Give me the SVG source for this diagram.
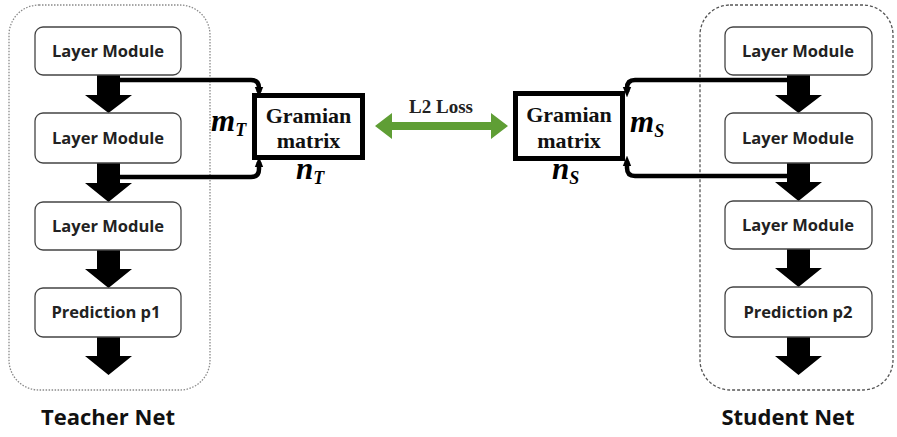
<svg xmlns="http://www.w3.org/2000/svg" width="897" height="437" viewBox="0 0 897 437">
  <defs>
    <style>
      .net { fill: none; }
      .teacher-net { stroke: #8a8a8a; stroke-width: 1.3; stroke-dasharray: 1.5 1.5; }
      .student-net { stroke: #555; stroke-width: 1.3; stroke-dasharray: 3 2; }
      .layer rect { fill: #fff; stroke: #444; stroke-width: 1.3; }
      .layer text { font-family: "Open Sans", "Liberation Sans", sans-serif; font-weight: bold; font-size: 16.5px; fill: #222; text-anchor: middle; }
      .gram rect { fill: #fff; stroke: #000; stroke-width: 5; }
      .gram text { font-family: "Liberation Serif", serif; font-weight: bold; font-size: 22px; fill: #111; text-anchor: middle; }
      .math { font-family: "Liberation Serif", serif; font-weight: bold; font-style: italic; fill: #000; }
      .flow { fill: #000; }
      .link { fill: none; stroke: #000; stroke-width: 4.5; stroke-linejoin: round; }
      .caption { font-family: "Open Sans", "Liberation Sans", sans-serif; font-weight: bold; font-size: 22px; fill: #111; text-anchor: middle; }
      .loss-label { font-family: "Liberation Serif", serif; font-weight: bold; font-size: 19px; fill: #222; text-anchor: middle; }
    </style>
    <marker id="tip" viewBox="0 0 10 10" refX="5" refY="5" markerWidth="2.4" markerHeight="2.4" orient="auto" markerUnits="strokeWidth">
      <path d="M0,1 L10,5 L0,9 z" fill="#000"/>
    </marker>
  </defs>

  <!-- network frames -->
  <rect id="teacher-frame" class="net teacher-net" x="9" y="5" width="201" height="385" rx="30"/>
  <rect id="student-frame" class="net student-net" x="700" y="5" width="193" height="385" rx="30"/>

  <!-- connectors: feature taps into the Gramian blocks -->
  <g id="connectors">
    <path class="link" d="M108,80 H251 Q259,80 259,88 V92" marker-end="url(#tip)"/>
    <path class="link" d="M108,177 H251 Q259,177 259,169 V162" marker-end="url(#tip)"/>
    <path class="link" d="M798,80 H635 Q627,80 627,88 V92" marker-end="url(#tip)"/>
    <path class="link" d="M798,176 H635 Q627,176 627,168 V161" marker-end="url(#tip)"/>
  </g>

  <!-- teacher flow arrows -->
  <g id="teacher-flow" class="flow">
    <polygon points="97,75 120,75 120,95 132,95 108.5,113 85,95 97,95"/>
    <polygon points="97,163 120,163 120,183 132,183 108.5,202 85,183 97,183"/>
    <polygon points="97,250 120,250 120,269 132,269 108.5,288 85,269 97,269"/>
    <polygon points="97,337 120,337 120,356 132,356 108.5,375 85,356 97,356"/>
  </g>

  <!-- student flow arrows -->
  <g id="student-flow" class="flow">
    <polygon points="787,75 810,75 810,95 822,95 798.5,113 775,95 787,95"/>
    <polygon points="787,163 810,163 810,182 822,182 798.5,201 775,182 787,182"/>
    <polygon points="787,249 810,249 810,268 822,268 798.5,287 775,268 787,268"/>
    <polygon points="787,337 810,337 810,356 822,356 798.5,375 775,356 787,356"/>
  </g>

  <!-- teacher layers -->
  <g id="t-layer1" class="layer"><rect x="35" y="27" width="146" height="48" rx="8"/><text x="108" y="57">Layer Module</text></g>
  <g id="t-layer2" class="layer"><rect x="35" y="113" width="146" height="50" rx="8"/><text x="108" y="144">Layer Module</text></g>
  <g id="t-layer3" class="layer"><rect x="35" y="202" width="146" height="48" rx="8"/><text x="108" y="232">Layer Module</text></g>
  <g id="t-pred" class="layer"><rect x="35" y="288" width="146" height="49" rx="8"/><text x="106" y="318">Prediction p1</text></g>

  <!-- student layers -->
  <g id="s-layer1" class="layer"><rect x="725" y="27" width="147" height="48" rx="8"/><text x="798" y="57">Layer Module</text></g>
  <g id="s-layer2" class="layer"><rect x="725" y="113" width="147" height="50" rx="8"/><text x="798" y="144">Layer Module</text></g>
  <g id="s-layer3" class="layer"><rect x="725" y="201" width="147" height="48" rx="8"/><text x="798" y="231">Layer Module</text></g>
  <g id="s-pred" class="layer"><rect x="725" y="287" width="147" height="50" rx="8"/><text x="798" y="318">Prediction p2</text></g>

  <!-- Gramian blocks -->
  <g id="t-gram" class="gram">
    <rect x="254.5" y="95.5" width="108" height="62"/>
    <text x="308.5" y="123">Gramian</text>
    <text x="308.5" y="148">matrix</text>
  </g>
  <g id="s-gram" class="gram">
    <rect x="515.5" y="93.5" width="107" height="65"/>
    <text x="569" y="122">Gramian</text>
    <text x="569" y="148">matrix</text>
  </g>

  <!-- dimension labels -->
  <g id="t-dims">
    <text class="math" x="211" y="131" font-size="31">m<tspan font-size="18" dy="5">T</tspan></text>
    <text class="math" x="296" y="179" font-size="31">n<tspan font-size="18" dy="5">T</tspan></text>
  </g>
  <g id="s-dims">
    <text class="math" x="630" y="132" font-size="31">m<tspan font-size="18" dy="5">S</tspan></text>
    <text class="math" x="552" y="179" font-size="31">n<tspan font-size="18" dy="5">S</tspan></text>
  </g>

  <!-- L2 loss between the Gramian blocks -->
  <g id="l2-loss">
    <polygon fill="#5f9e35" points="375,126 392,113 392,122 491,122 491,113 508,126 491,139 491,130 392,130 392,139"/>
    <text class="loss-label" x="441" y="113">L2 Loss</text>
  </g>

  <!-- captions -->
  <text id="teacher-caption" class="caption" x="108" y="425">Teacher Net</text>
  <text id="student-caption" class="caption" x="788" y="425">Student Net</text>
</svg>
